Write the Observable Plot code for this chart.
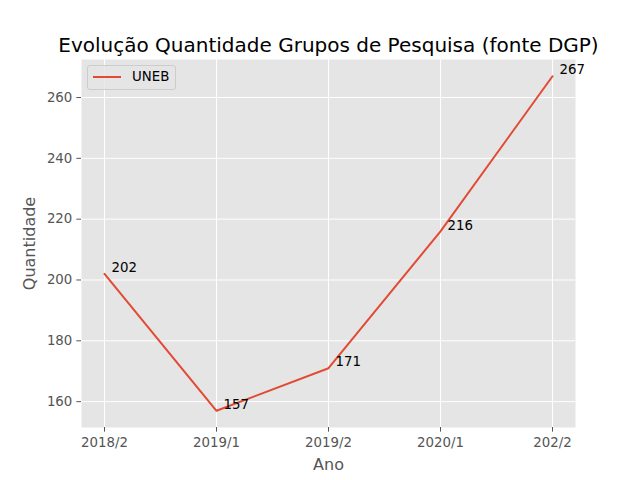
<!DOCTYPE html>
<html>
<head>
<meta charset="utf-8">
<script src="https://cdn.jsdelivr.net/npm/d3@7"></script>
<script src="https://cdn.jsdelivr.net/npm/@observablehq/plot@0.6"></script>
<style>
body { margin: 0; background: white; font-family: "DejaVu Sans", sans-serif; }
#wrap { position: relative; width: 640px; height: 480px; }
#legend { position: absolute; left: 87px; top: 65px; width: 89px; height: 25px;
  background: rgba(229,229,229,0.8); border: 1px solid #cccccc; border-radius: 3px; box-sizing: border-box; }
#legend .ln { position: absolute; left: 5px; top: 10px; width: 28px; height: 2px; background: #E24A33; }
#legend .tx { position: absolute; left: 44px; top: 3px; font-size: 13.33px; color: #000; line-height: 16px; }
</style>
</head>
<body>
<div id="wrap"></div>
<script>
const periods = ["2018/2", "2019/1", "2019/2", "2020/1", "202/2"];
const quantidade = [202, 157, 171, 216, 267];
const yTicks = [160, 180, 200, 220, 240, 260];
const seriesName = "UNEB";
const titleText = "Evolução Quantidade Grupos de Pesquisa (fonte DGP)";

const data = periods.map((p, i) => ({periodo: p, valor: quantidade[i]}));

const chart = Plot.plot({
  width: 640, height: 480,
  marginLeft: 81, marginRight: 65, marginTop: 59, marginBottom: 53,
  style: {fontFamily: "DejaVu Sans", fontSize: "13.33px", background: "white", color: "#555", overflow: "visible"},
  x: {type: "point", domain: periods, padding: 0.2, label: null},
  y: {domain: [151.5, 272.5], ticks: yTicks, label: null},
  marks: [
    Plot.frame({fill: "#E5E5E5", stroke: null}),
    Plot.gridX({stroke: "white", strokeOpacity: 1, strokeWidth: 1}),
    Plot.gridY(yTicks, {stroke: "white", strokeOpacity: 1, strokeWidth: 1}),
    Plot.axisX({tickSize: 4.67, tickPadding: 5.5, stroke: "#555", fill: "#555", label: null}),
    Plot.axisY(yTicks, {tickSize: 4.67, tickPadding: 4.5, stroke: "#555", fill: "#555", label: null}),
    Plot.line(data, {x: "periodo", y: "valor", stroke: "#E24A33", strokeWidth: 2}),
    Plot.text(data, {x: "periodo", y: "valor", text: d => String(d.valor), dx: 7, dy: -6, textAnchor: "start", fill: "black", fontSize: 13.33}),
    Plot.text([titleText], {frameAnchor: "top", dy: -22, fontSize: 20, fill: "black"}),
    Plot.text(["Ano"], {frameAnchor: "bottom", dy: 42, fontSize: 16, fill: "#555"}),
    Plot.text(["Quantidade"], {frameAnchor: "left", dx: -52, rotate: -90, textAnchor: "middle", fontSize: 16, fill: "#555"})
  ]
});
document.getElementById("wrap").appendChild(chart);
const lg = document.createElement("div");
lg.id = "legend";
lg.innerHTML = '<div class="ln"></div><div class="tx"></div>';
lg.querySelector(".tx").textContent = seriesName;
document.getElementById("wrap").appendChild(lg);
</script>
</body>
</html>
